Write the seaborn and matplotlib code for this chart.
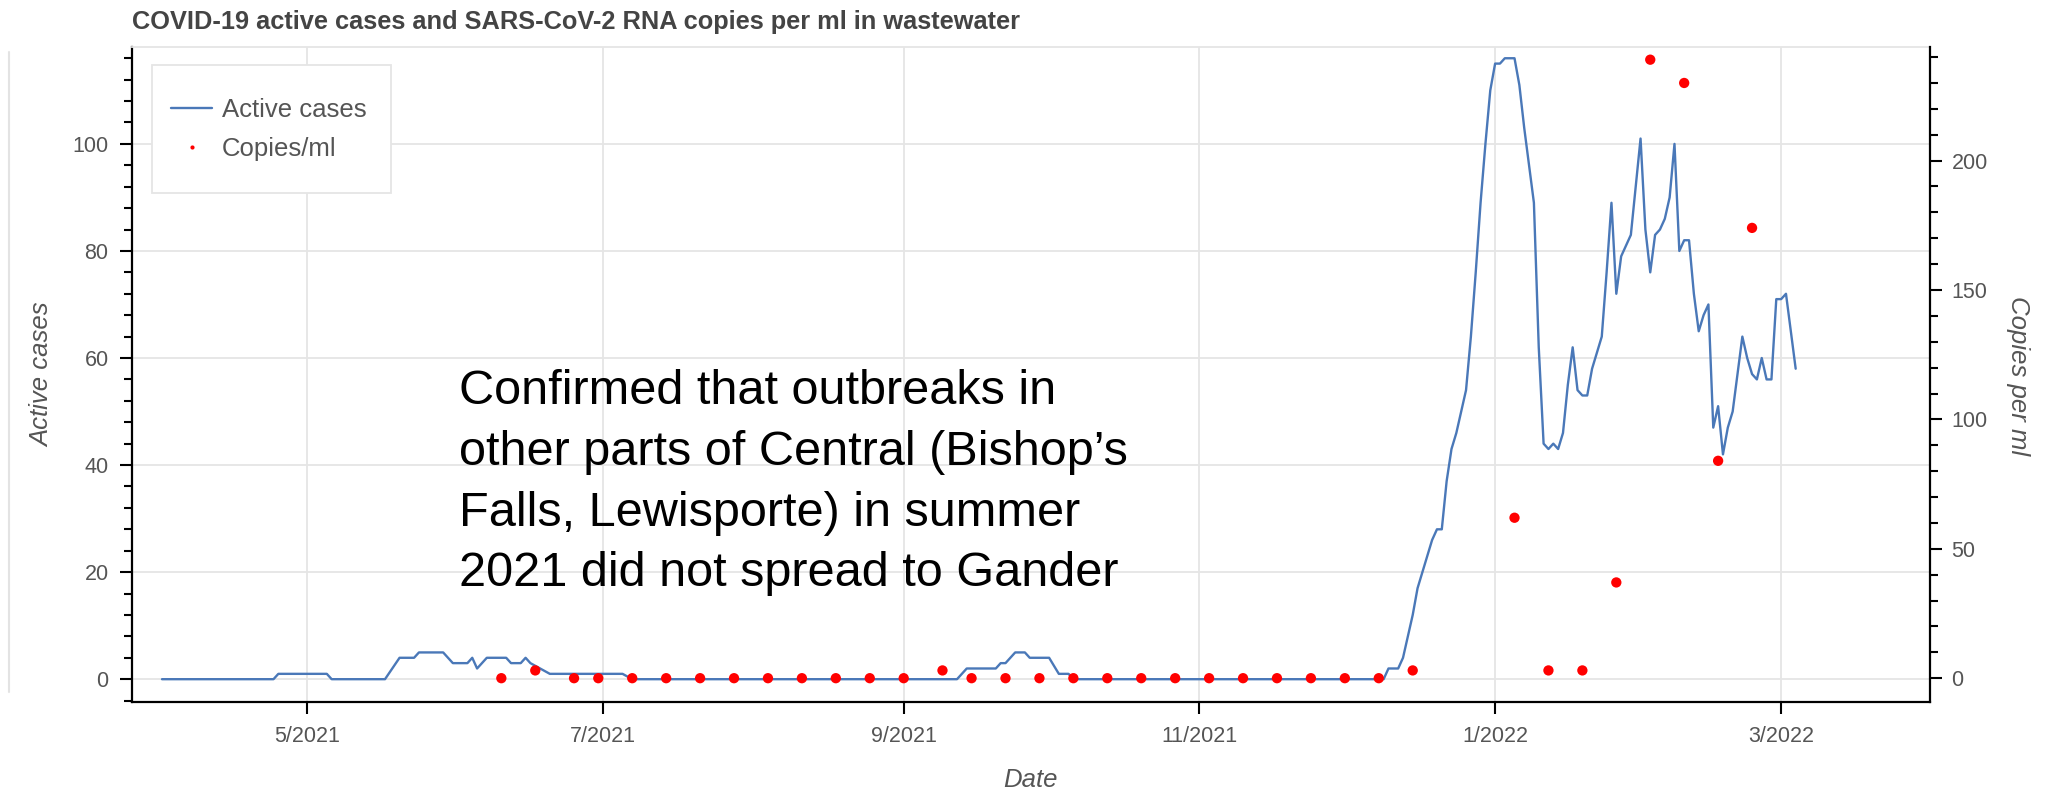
import matplotlib
matplotlib.use("Agg")
import matplotlib.pyplot as plt
import matplotlib.dates as mdates
from matplotlib.ticker import MultipleLocator, FuncFormatter, NullLocator
from matplotlib.lines import Line2D
from matplotlib.patches import Rectangle
import pandas as pd
import seaborn as sns

# Active COVID-19 cases in Gander (vertices of the daily series)
case_dates = [
    "2021-04-01", "2021-04-24", "2021-04-25", "2021-05-05", "2021-05-06",
    "2021-05-17", "2021-05-20", "2021-05-23", "2021-05-24", "2021-05-29",
    "2021-05-31", "2021-06-03", "2021-06-04", "2021-06-05", "2021-06-07",
    "2021-06-11", "2021-06-12", "2021-06-14", "2021-06-15", "2021-06-16",
    "2021-06-18", "2021-06-20", "2021-07-05", "2021-07-07",
    "2021-09-12", "2021-09-14", "2021-09-20", "2021-09-21", "2021-09-22",
    "2021-09-24", "2021-09-26", "2021-09-27", "2021-10-01", "2021-10-03",
    "2021-10-05", "2021-10-06",
    "2021-12-09", "2021-12-10", "2021-12-12", "2021-12-13", "2021-12-14",
    "2021-12-15", "2021-12-16", "2021-12-17", "2021-12-18", "2021-12-19",
    "2021-12-20", "2021-12-21", "2021-12-22", "2021-12-23", "2021-12-24",
    "2021-12-25", "2021-12-26", "2021-12-27", "2021-12-28", "2021-12-29",
    "2021-12-30", "2021-12-31", "2022-01-01", "2022-01-02", "2022-01-03",
    "2022-01-04", "2022-01-05", "2022-01-06", "2022-01-07", "2022-01-08",
    "2022-01-09", "2022-01-10", "2022-01-11", "2022-01-12", "2022-01-13",
    "2022-01-14", "2022-01-15", "2022-01-16", "2022-01-17", "2022-01-18",
    "2022-01-19", "2022-01-20", "2022-01-21", "2022-01-22", "2022-01-23",
    "2022-01-24", "2022-01-25", "2022-01-26", "2022-01-27", "2022-01-28",
    "2022-01-29", "2022-01-30", "2022-01-31", "2022-02-01", "2022-02-02",
    "2022-02-03", "2022-02-04", "2022-02-05", "2022-02-06", "2022-02-07",
    "2022-02-08", "2022-02-09", "2022-02-10", "2022-02-11", "2022-02-12",
    "2022-02-13", "2022-02-14", "2022-02-15", "2022-02-16", "2022-02-17",
    "2022-02-18", "2022-02-19", "2022-02-20", "2022-02-21", "2022-02-22",
    "2022-02-23", "2022-02-24", "2022-02-25", "2022-02-26", "2022-02-27",
    "2022-02-28", "2022-03-01", "2022-03-02", "2022-03-04",
]
case_values = [
    0, 0, 1, 1, 0,
    0, 4, 4, 5, 5,
    3, 3, 4, 2, 4,
    4, 3, 3, 4, 3,
    2, 1, 1, 0,
    0, 2, 2, 3, 3,
    5, 5, 4, 4, 1,
    1, 0,
    0, 2, 2, 4, 8,
    12, 17, 20, 23, 26,
    28, 28, 37, 43, 46,
    50, 54, 64, 76, 89,
    100, 110, 115, 115, 116,
    116, 116, 111, 103, 96,
    89, 62, 44, 43, 44,
    43, 46, 55, 62, 54,
    53, 53, 58, 61, 64,
    76, 89, 72, 79, 81,
    83, 92, 101, 84, 76,
    83, 84, 86, 90, 100,
    80, 82, 82, 72, 65,
    68, 70, 47, 51, 42,
    47, 50, 57, 64, 60,
    57, 56, 60, 56, 56,
    71, 71, 72, 58,
]

# Weekly wastewater samples: SARS-CoV-2 RNA copies per ml
sample_dates = [
    "2021-06-10", "2021-06-17", "2021-06-25", "2021-06-30", "2021-07-07",
    "2021-07-14", "2021-07-21", "2021-07-28", "2021-08-04", "2021-08-11",
    "2021-08-18", "2021-08-25", "2021-09-01", "2021-09-09", "2021-09-15",
    "2021-09-22", "2021-09-29", "2021-10-06", "2021-10-13", "2021-10-20",
    "2021-10-27", "2021-11-03", "2021-11-10", "2021-11-17", "2021-11-24",
    "2021-12-01", "2021-12-08", "2021-12-15", "2022-01-05", "2022-01-12",
    "2022-01-19", "2022-01-26", "2022-02-02", "2022-02-09", "2022-02-16",
    "2022-02-23",
]
copies_per_ml = [
    0, 3, 0, 0, 0,
    0, 0, 0, 0, 0,
    0, 0, 0, 3, 0,
    0, 0, 0, 0, 0,
    0, 0, 0, 0, 0,
    0, 0, 3, 62, 3,
    3, 37, 239, 230, 84,
    174,
]

title_text = "COVID-19 active cases and SARS-CoV-2 RNA copies per ml in wastewater"
note_lines = [
    "Confirmed that outbreaks in",
    "other parts of Central (Bishop\u2019s",
    "Falls, Lewisporte) in summer",
    "2021 did not spread to Gander",
]

LINE_COLOR = "#4a78b8"
DOT_COLOR = "#ff0000"
GRID_COLOR = "#e5e5e5"
TEXT_GRAY = "#555555"

sns.set_style("white")
plt.rcParams["font.family"] = ["Liberation Sans", "DejaVu Sans"]

W, H = 2049, 795
fig = plt.figure(figsize=(W / 100, H / 100), dpi=100)
ax = fig.add_axes([131.5 / W, 1 - 702 / H, (1930 - 131.5) / W, (702 - 47) / H])

cases = pd.DataFrame({"date": pd.to_datetime(case_dates), "active": case_values})
samples = pd.DataFrame({"date": pd.to_datetime(sample_dates), "copies": copies_per_ml})

sns.lineplot(data=cases, x="date", y="active", ax=ax, color=LINE_COLOR,
             linewidth=1.7, estimator=None, zorder=3)

ax2 = ax.twinx()
sns.scatterplot(data=samples, x="date", y="copies", ax=ax2, color=DOT_COLOR,
                s=55, edgecolor="none", zorder=4)

ax.set_xlim(pd.Timestamp("2021-03-25 17:00"), pd.Timestamp("2022-03-31 17:00"))
ax.set_ylim(-4.26, 118.1)
ax2.set_ylim(-9.2, 243.9)

# Grid on the primary axis only
ax.set_axisbelow(True)
ax.grid(True, which="major", color=GRID_COLOR, linewidth=1.3)
ax2.grid(False)

# Spines
for side in ("left", "bottom"):
    ax.spines[side].set_color("black")
    ax.spines[side].set_linewidth(1.6)
ax.spines["top"].set_color(GRID_COLOR)
ax.spines["top"].set_linewidth(1.3)
ax.spines["right"].set_visible(False)
for side in ("left", "top", "bottom"):
    ax2.spines[side].set_visible(False)
ax2.spines["right"].set_visible(True)
ax2.spines["right"].set_color("black")
ax2.spines["right"].set_linewidth(1.6)

# Date axis
ax.xaxis.set_major_locator(mdates.MonthLocator(bymonth=[1, 3, 5, 7, 9, 11]))
ax.xaxis.set_major_formatter(
    FuncFormatter(lambda v, _: f"{mdates.num2date(v).month}/{mdates.num2date(v).year}"))
ax.xaxis.set_minor_locator(NullLocator())

# Case axis
ax.yaxis.set_major_locator(MultipleLocator(20))
ax.yaxis.set_minor_locator(MultipleLocator(4))
# Copies axis
ax2.yaxis.set_major_locator(MultipleLocator(50))
ax2.yaxis.set_minor_locator(MultipleLocator(10))

tick_kw = dict(direction="out", color="black", width=1.5, labelcolor=TEXT_GRAY, labelsize=15.5)
ax.tick_params(axis="x", which="major", length=8.5, pad=9, bottom=True, **tick_kw)
ax.tick_params(axis="y", which="major", length=8.5, pad=8, left=True, **tick_kw)
ax.tick_params(axis="y", which="minor", length=5.5, width=1.5, color="black", left=True)
ax2.tick_params(axis="y", which="major", length=8.5, pad=7, right=True, **tick_kw)
ax2.tick_params(axis="y", which="minor", length=5.5, width=1.5, color="black", right=True)

# Axis titles
label_kw = dict(fontsize=18.5, fontstyle="italic", color=TEXT_GRAY)
ax.set_xlabel("Date", **label_kw)
ax.xaxis.label.set_va("center")
ax.xaxis.set_label_coords(0.4996, -0.119)
ax.set_ylabel("Active cases", **label_kw)
ax.yaxis.label.set_va("center")
ax.yaxis.set_label_coords(-0.0498, 0.499)
ax2.set_ylabel("Copies per ml", rotation=270, **label_kw)
ax2.yaxis.label.set_va("center")
ax2.yaxis.label.set_ha("center")
ax2.yaxis.label.set_rotation_mode("anchor")
ax2.yaxis.set_label_coords(1.0489, 0.499)

# Legend box and entries
ax2.add_patch(Rectangle((0.0114, 0.7771), 0.1329, 0.1954, transform=ax2.transAxes,
                        facecolor="white", edgecolor=GRID_COLOR, linewidth=1.3, zorder=5))
handles = [
    Line2D([], [], color=LINE_COLOR, linewidth=1.7),
    Line2D([], [], linestyle="none", marker="o", markersize=3, color=DOT_COLOR,
           markeredgewidth=0),
]
leg = ax2.legend(handles, ["Active cases", "Copies/ml"], loc="center left",
                 bbox_to_anchor=(0.022, 0.874), frameon=False, fontsize=18.5,
                 handlelength=1.6, handletextpad=0.39, labelspacing=0.6,
                 borderpad=0, borderaxespad=0, labelcolor=TEXT_GRAY)
leg.set_zorder(6)

# Title
fig.text(132 / W, 1 - 28.5 / H, title_text, ha="left", va="baseline",
         fontsize=18.3, fontweight="bold", color="#444444")

# Annotation
for i, line in enumerate(note_lines):
    fig.text(459 / W, 1 - (404.5 + 60.5 * i) / H, line, ha="left", va="baseline",
             fontsize=35, color="black")

# Thin page border at the far left
fig.add_artist(Line2D([9 / W, 9 / W], [1 - 52 / H, 1 - 692 / H],
                      transform=fig.transFigure, color="#e3e3e3", linewidth=1.5))

fig.savefig("out.png", dpi=100)
